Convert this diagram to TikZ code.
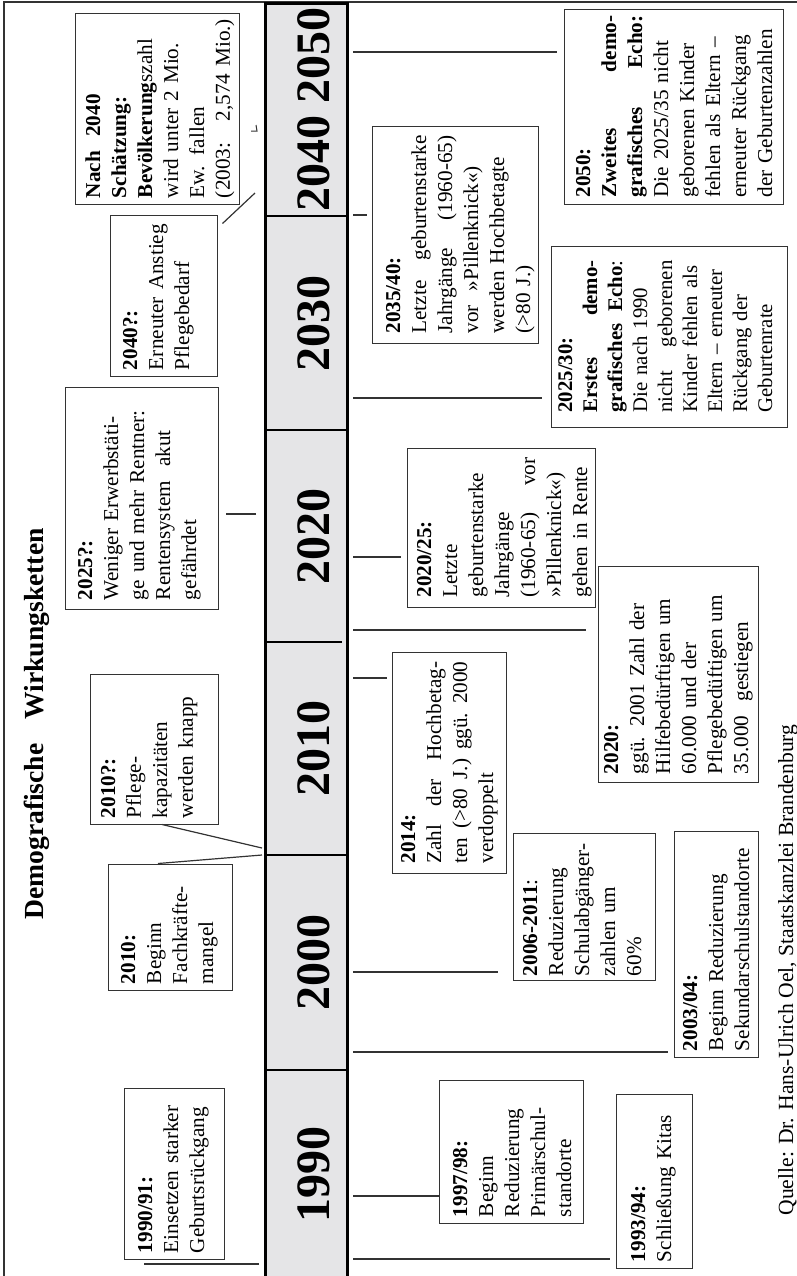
\documentclass[tikz,border=0pt]{standalone}
\usepackage{fontspec}
\setmainfont{Liberation Serif}
\definecolor{barGray}{HTML}{E5E5E7}
\definecolor{inkDark}{HTML}{333333}

\begin{document}
\begin{tikzpicture}[
    x=0.5pt, y=-0.5pt,
    box/.style={draw=inkDark, line width=0.5pt, rotate=90, align=left,
        inner xsep=3pt, inner ysep=4.5pt, text height=8.5pt,
        font=\fontsize{10.6}{13}\selectfont},
    link/.style={draw=inkDark, line width=0.6pt},
    yearlbl/.style={rotate=90, anchor=base,
        font=\fontsize{24}{28}\selectfont\bfseries},
]
\useasboundingbox (0,0) rectangle (797,1276);

% outer frame (right and bottom edge run off the page)
\draw[inkDark, line width=0.6pt] (4,1290) -- (4,2) -- (810,2);

% time bar
\fill[barGray] (265,3) rectangle (347,1290);
\foreach \yy in {216,430,855,1070} {
    \draw[black, line width=1.1pt] (265,\yy) -- (347,\yy);
}
\draw[black, line width=1.1pt] (265,642) -- (342,642);
\draw[black, line width=1.5pt] (265,1290) -- (265,3) -- (347,3) -- (347,1290);

% decade labels
\foreach \cy/\yr [count=\i] in {1174/1990, 962/2000, 748/2010,
                                536/2020, 323/2030, 109/2040 2050} {
    \node[yearlbl] (yr\i) at (329,\cy) {\yr};
}

% title and source
\node[rotate=90, anchor=base, font=\fontsize{13.8}{16}\selectfont\bfseries]
    (title) at (43,724) {Demografische\hspace{8.5pt} Wirkungsketten};
\node[rotate=90, anchor=base, font=\fontsize{10.8}{13}\selectfont]
    (quelle) at (793,970) {Quelle: Dr. Hans-Ulrich Oel, Staatskanzlei Brandenburg};

% boxes left of the bar
\node[box, text width=89.5pt, minimum width=95.5pt, text height=8pt, text depth=65pt]
    (n2040) at (157,108.5)
    {\textbf{Nach\ \ 2040}\\ \textbf{Schätzung:}\\ \textbf{Bevölkerung}szahl\\
     wird unter 2 Mio.\\ Ew. fallen\\ (2003:\hfill 2,574 Mio.)};
\node[box, text width=74.5pt, minimum width=80.5pt, text height=9pt, text depth=35.5pt]
    (b2040q) at (163.5,295.5)
    {\textbf{2040?:}\\ Erneuter Anstieg\\ Pflegebedarf};
\node[box, text width=102pt, minimum width=111pt, text height=9pt, text depth=58.5pt]
    (b2025q) at (141.5,498)
    {\textbf{2025?:}\\ Weniger Erwerbstäti-\\ ge und mehr Rentner:\\
     Rentensystem\ \ akut\\ gefährdet};
\node[box, text width=69pt, minimum width=75pt, text height=8pt, text depth=47pt]
    (b2010q) at (154,749)
    {\textbf{2010?:}\\ Pflege-\\ kapazitäten\\ werden knapp};
\node[box, text width=57pt, minimum width=63pt, text height=9pt, text depth=44pt]
    (b2010) at (170,927)
    {\textbf{2010:}\\ Beginn\\ Fachkräfte-\\ mangel};
\node[box, text width=79.5pt, minimum width=85.5pt, text height=9.5pt, text depth=31.5pt]
    (b1990) at (174,1173.5)
    {\textbf{1990/91:}\\ Einsetzen starker\\ Geburtsrückgang};

% boxes right of the bar
\node[box, text width=99pt, minimum width=108.5pt, text height=9.5pt, text depth=64.5pt]
    (b2035) at (455,234.5)
    {\textbf{2035/40:}\\ Letzte\hfill geburtenstarke\\ Jahrgänge\hfill (1960-65)\\
     vor\ \ »Pillenknick«)\\ werden Hochbetagte\\ (>80 J.)};
\node[box, text width=91pt, minimum width=97.5pt, text depth=92pt]
    (b2050) at (673.5,106.5)
    {\textbf{2050:}\\ \textbf{Zweites\hfill demo-}\\ \textbf{grafisches\hfill Echo:}\\
     Die 2025/35 nicht\\ geborenen Kinder\\ fehlen als Eltern –\\
     erneuter Rückgang\\ der Geburtenzahlen};
\node[box, text width=76pt, minimum width=90.5pt, text height=6pt, text depth=103pt,
      font=\fontsize{10.4}{12.5}\selectfont]
    (b2025s) at (669,336.5)
    {\textbf{2025/30:}\\ \textbf{Erstes\hfill demo-}\\ \textbf{grafisches\hfill Echo}:\\
     Die nach 1990\\ nicht\hfill geborenen\\ Kinder fehlen als\\
     Eltern – erneuter\\ Rückgang der\\ Geburtenrate};
\node[box, text width=70pt, minimum width=79.5pt, text height=7.5pt, text depth=77.5pt]
    (b2020s) at (501,527.5)
    {\textbf{2020/25:}\\ Letzte\\ geburtenstarke\\ Jahrgänge\\ (1960-65)\hfill vor\\
     »Pillenknick«)\\ gehen in Rente};
\node[box, text width=101pt, minimum width=110.5pt, text height=7pt, text depth=41pt]
    (b2014) at (449,762.5)
    {\textbf{2014:}\\ Zahl\hfill der\hfill Hochbetag-\\
     ten\hfill (>80\hfill J.)\hfill ggü.\hfill 2000\\ verdoppelt};
\node[box, text width=100pt, minimum width=108pt, text height=5.5pt, text depth=65.5pt]
    (b2020) at (678,674)
    {\textbf{2020:}\\ ggü. 2001 Zahl der\\ Hilfebedürftigen um\\ 60.000 und der\\
     Pflegebedüftigen um\\ 35.000\ \ gestiegen};
\node[box, inner xsep=2pt, text width=69.5pt, minimum width=73.5pt, text height=7.5pt,
      text depth=54.5pt]
    (b2006) at (584,906.5)
    {\textbf{2006-2011}:\\ Reduzierung\\ Schulabgänger-\\ zahlen um\\ 60\%};
\node[box, text width=107pt, minimum width=113pt, text height=7pt, text depth=26pt]
    (b2003) at (716,944)
    {\textbf{2003/04:}\\ Beginn Reduzierung\\ Sekundarschulstandorte};
\node[box, text width=65.5pt, minimum width=71.5pt, text height=9.5pt, text depth=53.5pt]
    (b1997) at (511,1151.5)
    {\textbf{1997/98:}\\ Beginn\\ Reduzierung\\ Primärschul-\\ standorte};
\node[box, text width=81pt, minimum width=87pt, text height=10pt, text depth=19pt]
    (b1993) at (654,1181)
    {\textbf{1993/94:}\\ Schließung Kitas};

% links from the bar to the right-hand boxes
\foreach \nm/\yy/\gap in {b2050/52/3.5pt, b2035/215/2.5pt, b2025s/398/4.5pt,
        b2020s/557/3pt, b2020/630/6pt, b2014/678/2.5pt, b2006/972/7.5pt,
        b2003/1052/3pt, b1997/1196/0pt, b1993/1259/3pt} {
    \coordinate (k\nm) at (353,\yy);
    \draw[link, shorten >=\gap] (k\nm) -- (k\nm -| \nm.north);
}

% links on the left-hand side
\coordinate (k2040) at (255,193);
\draw[link] ([shift={(2.5pt,-4.5pt)}]b2040q.south east) -- (k2040);
\draw[link, line width=0.5pt] (251,131) -- (257,131) -- (256,125);

\coordinate (k2025q) at (256,514);
\draw[link, shorten >=3.5pt] (k2025q) -- (k2025q -| b2025q.south);

\coordinate (k2010a) at (262,848);
\coordinate (k2010b) at (262,855);
\draw[link] ([xshift=4pt]b2010q.west) -- (k2010a);
\draw[link] ([xshift=-6pt]b2010.east) -- (k2010b);

\coordinate (k1990) at (259,1264);
\draw[link] (k1990) -- ([xshift=10pt]k1990 -| b1990.north);

\end{tikzpicture}
\end{document}
